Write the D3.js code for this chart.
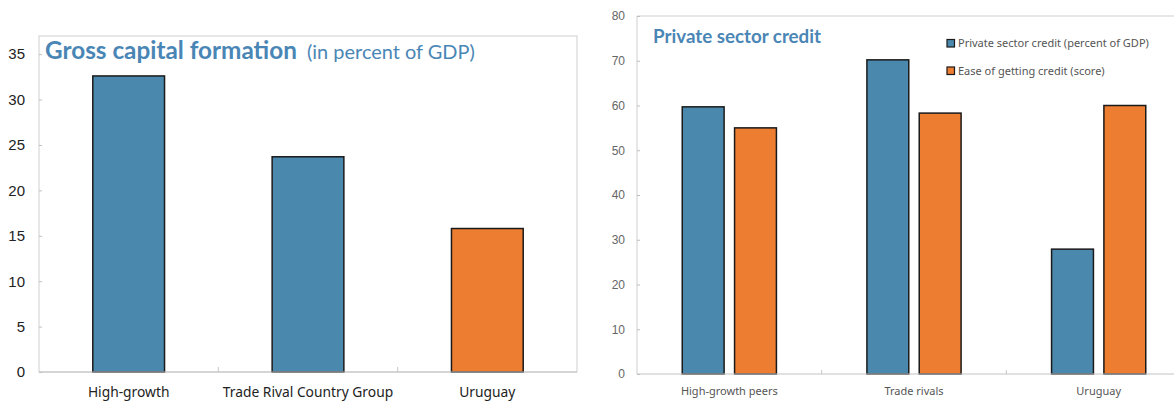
<!DOCTYPE html>
<html>
<head>
<meta charset="utf-8">
<script src="https://cdn.jsdelivr.net/npm/d3@7"></script>
<style>
  html, body { margin: 0; padding: 0; background: #fff; }
  svg { display: block; font-family: "Noto Sans", "Open Sans", sans-serif; }
</style>
</head>
<body>
<svg id="chart" width="1174" height="401"></svg>
<script>
// ---- Gross capital formation (percent of GDP) ----
const gcfCategories = ["High-growth", "Trade Rival Country Group", "Uruguay"];
const gcfValues = [32.6, 23.7, 15.8];
const gcfTicks = [0, 5, 10, 15, 20, 25, 30, 35];

// ---- Private sector credit ----
const pscCategories = ["High-growth peers", "Trade rivals", "Uruguay"];
const pscSeries = ["Private sector credit (percent of GDP)", "Ease of getting credit (score)"];
const pscCredit = [59.7, 70.2, 27.9];
const pscEase = [55.0, 58.3, 60.0];
const pscTicks = [0, 10, 20, 30, 40, 50, 60, 70, 80];

const BLUE = "#4a89ad";
const ORANGE = "#ed7d31";
const TITLE = "#4a86b5";
const TITLE_FONT = "Lato, 'Noto Sans', sans-serif";

const svg = d3.select("#chart");

// Scale a text element's font size so that it spans the given width.
function fitWidth(sel, target) {
  sel.each(function () {
    const fs = parseFloat(this.getAttribute("font-size"));
    const w = this.getComputedTextLength();
    if (w > 0) this.setAttribute("font-size", (fs * target / w).toFixed(2));
  });
}

// ================= Left panel =================
{
  const L = 39, R = 577, T = 36, B = 372;
  const x = d3.scaleBand().domain(gcfCategories).range([L, R]).paddingInner(0.6).paddingOuter(0.3);
  const y = d3.scaleLinear().domain([0, 37]).range([B, T]);
  const g = svg.append("g");

  // plot frame
  g.append("rect").attr("x", L).attr("y", T).attr("width", R - L).attr("height", B - T)
    .attr("fill", "none").attr("stroke", "#cfcfcf").attr("stroke-width", 1);

  // y axis
  const ya = g.append("g").attr("transform", `translate(${L},0)`)
    .call(d3.axisLeft(y).tickValues(gcfTicks).tickSize(-3).tickPadding(14).tickFormat(d3.format("d")));
  ya.select(".domain").remove();
  ya.selectAll("line").attr("stroke", "#bfbfbf");
  ya.selectAll("text").attr("font-size", 15).attr("fill", "#222").attr("font-family", null);

  // bars
  g.selectAll("rect.bar").data(gcfValues).join("rect").attr("class", "bar")
    .attr("x", (d, i) => x(gcfCategories[i]))
    .attr("y", d => y(d))
    .attr("width", x.bandwidth())
    .attr("height", d => B - y(d))
    .attr("fill", (d, i) => i === 2 ? ORANGE : BLUE)
    .attr("stroke", "#1a1a1a").attr("stroke-width", 1.5);

  // x axis baseline with category separators
  g.append("line").attr("x1", L).attr("x2", R).attr("y1", B).attr("y2", B)
    .attr("stroke", "#c4c4c4").attr("stroke-width", 1.2);
  g.selectAll("line.sep").data(gcfCategories.slice(1)).join("line").attr("class", "sep")
    .attr("x1", d => x(d) - x.step() * x.paddingInner() / 2)
    .attr("x2", d => x(d) - x.step() * x.paddingInner() / 2)
    .attr("y1", B).attr("y2", B - 5).attr("stroke", "#c4c4c4");
  g.selectAll("text.cat").data(gcfCategories).join("text").attr("class", "cat")
    .attr("x", d => x(d) + x.bandwidth() / 2).attr("y", 397)
    .attr("text-anchor", "middle").attr("font-size", 13.8).attr("fill", "#222")
    .text(d => d);

  // title
  const t1 = g.append("text").attr("x", 45).attr("y", 58.5).attr("font-size", 23)
    .attr("font-family", TITLE_FONT).attr("font-weight", "bold").attr("fill", TITLE)
    .text("Gross capital formation");
  fitWidth(t1, 252);
  const t2 = g.append("text").attr("x", 307).attr("y", 58.5).attr("font-size", 20)
    .attr("font-family", TITLE_FONT).attr("fill", TITLE).text("(in percent of GDP)");
  fitWidth(t2, 168);
}

// ================= Right panel =================
{
  const L = 637, R = 1191, T = 16, B = 374;
  const x0 = d3.scaleBand().domain(pscCategories).range([L, R]).paddingInner(0.49).paddingOuter(0.245);
  const x1 = d3.scaleBand().domain(pscSeries).range([0, x0.bandwidth()]).paddingInner(0.2);
  const y = d3.scaleLinear().domain([0, 80]).range([B, T]);
  const colors = d3.scaleOrdinal().domain(pscSeries).range([BLUE, ORANGE]);
  const g = svg.append("g");

  // frame: left edge and top edge (right side runs past the canvas)
  g.append("line").attr("x1", L).attr("x2", L).attr("y1", T).attr("y2", B).attr("stroke", "#cfcfcf");
  g.append("line").attr("x1", L).attr("x2", R).attr("y1", T).attr("y2", T).attr("stroke", "#cfcfcf");

  const ya = g.append("g").attr("transform", `translate(${L},0)`)
    .call(d3.axisLeft(y).tickValues(pscTicks).tickSize(-3).tickPadding(12).tickFormat(d3.format("d")));
  ya.select(".domain").remove();
  ya.selectAll("line").attr("stroke", "#bfbfbf");
  ya.selectAll("text").attr("font-size", 12).attr("fill", "#666").attr("font-family", null);

  const rows = pscCategories.map((c, i) => ({ cat: c, vals: [pscCredit[i], pscEase[i]] }));
  g.selectAll("g.grp").data(rows).join("g").attr("class", "grp")
    .attr("transform", d => `translate(${x0(d.cat)},0)`)
    .selectAll("rect").data(d => d.vals.map((v, j) => ({ s: pscSeries[j], v })))
    .join("rect")
    .attr("x", d => x1(d.s)).attr("y", d => y(d.v))
    .attr("width", x1.bandwidth()).attr("height", d => B - y(d.v))
    .attr("fill", d => colors(d.s)).attr("stroke", "#1a1a1a").attr("stroke-width", 1.5);

  g.append("line").attr("x1", L).attr("x2", R).attr("y1", B).attr("y2", B)
    .attr("stroke", "#c4c4c4").attr("stroke-width", 1.2);
  g.selectAll("line.sep").data(pscCategories.slice(1)).join("line").attr("class", "sep")
    .attr("x1", d => x0(d) - x0.step() * x0.paddingInner() / 2)
    .attr("x2", d => x0(d) - x0.step() * x0.paddingInner() / 2)
    .attr("y1", B).attr("y2", B - 4).attr("stroke", "#c4c4c4");
  g.selectAll("text.cat").data(pscCategories).join("text").attr("class", "cat")
    .attr("x", d => x0(d) + x0.bandwidth() / 2).attr("y", 395)
    .attr("text-anchor", "middle").attr("font-size", 11).attr("fill", "#555")
    .text(d => d);

  const t = g.append("text").attr("x", 653).attr("y", 43).attr("font-size", 18)
    .attr("font-family", TITLE_FONT).attr("font-weight", "bold").attr("fill", TITLE)
    .text("Private sector credit");
  fitWidth(t, 168);

  // legend
  const lg = g.selectAll("g.leg").data(pscSeries).join("g").attr("class", "leg")
    .attr("transform", (d, i) => `translate(947,${39.5 + i * 27.5})`);
  lg.append("rect").attr("width", 7.5).attr("height", 7.5)
    .attr("fill", d => colors(d)).attr("stroke", "#1a1a1a").attr("stroke-width", 1.2);
  lg.append("text").attr("x", 11).attr("y", 7.5).attr("font-size", 11).attr("fill", "#555")
    .text(d => d);
}
</script>
</body>
</html>
